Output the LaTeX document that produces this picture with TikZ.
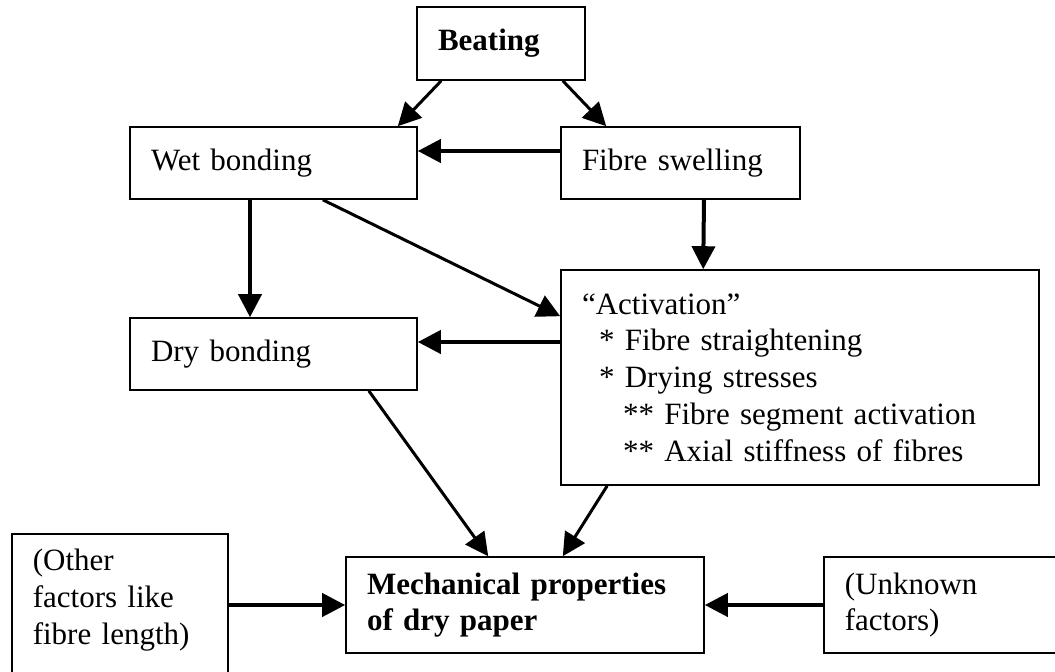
\documentclass[tikz,border=0pt]{standalone}
\usepackage{fontspec}
\setmainfont{Liberation Serif}
\usetikzlibrary{positioning,arrows.meta}

\begin{document}
\begin{tikzpicture}[x=1pt,y=-1pt,on grid,
   font=\fontsize{31}{36.7}\selectfont,
   box/.style={draw,line width=1.6pt,inner xsep=21pt,inner ysep=0pt,align=left},
   arr/.style={-{Triangle[length=23pt,width=23pt]},line width=4pt},
   thinarr/.style={-{Triangle[length=23pt,width=23pt]},line width=3pt}]
   \clip (0,0) rectangle (1055,672);
   \node[box,text width=126pt,minimum height=73pt] (beating) at (501,43.5) {\textbf{Beating}};
   \node[box,text width=245pt,minimum height=72pt] (wet) [below left=119.5pt and 227.5pt of beating] {Wet bonding};
   \node[box,text width=197pt,minimum height=72pt] (fibre) [right=407pt of wet] {Fibre swelling};
   \node[box,text width=245pt,minimum height=72pt] (dry) [below=191pt of wet] {Dry bonding};
   \node[box,text width=436pt,minimum height=215pt] (act) [below right=214.5pt and 119.5pt of fibre]
      {``Activation''\\
       \hspace*{17pt}* Fibre straightening\\
       \hspace*{17pt}* Drying stresses\\
       \hspace*{41pt}** Fibre segment activation\\
       \hspace*{41pt}** Axial stiffness of fibres};
   \node[box,text width=316pt,minimum height=96pt] (mech) [below right=251pt and 251.5pt of dry]
      {\textbf{Mechanical properties}\\\textbf{of dry paper}};
   \node[box,text width=174pt,inner ysep=15.5pt,anchor=north west] (other) at (11,533)
      {(Other\\factors like\\fibre length)\\\mbox{}};
   \node[box,text width=215pt,minimum height=96pt,anchor=west] (unknown) at (823,605)
      {(Unknown\\factors)};
   \path[thinarr]
   ([xshift=25pt]beating.south west) edge ([xshift=-20pt]wet.north east)
   ([xshift=-23pt]beating.south east) edge ([xshift=46pt]fibre.north west)
   ([xshift=-95pt]wet.south east) edge ([yshift=-47pt]act.north west)
   ([xshift=-49pt]dry.south east) edge ([xshift=143pt]mech.north west)
   ([xshift=47pt]act.south west) edge ([xshift=-142pt]mech.north east);
   \path[arr]
   ([yshift=12pt]fibre.west) edge ([yshift=12pt]wet.east)
   ([xshift=-23.5pt]wet.south) edge ([xshift=-23.5pt]dry.north)
   ([xshift=23.5pt]fibre.south) edge ([xshift=143pt]act.north west)
   ([yshift=35.5pt]act.west) edge ([yshift=12pt]dry.east)
   (other.east |- mech.west) edge (mech.west)
   (unknown.west) edge (mech.east);
\end{tikzpicture}
\end{document}
